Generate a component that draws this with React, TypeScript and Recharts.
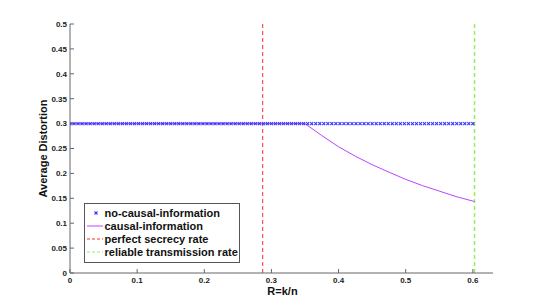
import { LineChart, Line, XAxis, YAxis, ReferenceLine, Legend, Label } from 'recharts';

// sample points of the no-causal-information curve (x markers)
const noCausalRate = [
  0, 0.006, 0.012, 0.018, 0.024, 0.03, 0.036, 0.042, 0.048, 0.054,
  0.06, 0.066, 0.072, 0.078, 0.084, 0.09, 0.096, 0.102, 0.108, 0.114,
  0.12, 0.126, 0.132, 0.138, 0.144, 0.15, 0.156, 0.162, 0.168, 0.174,
  0.18, 0.186, 0.192, 0.198, 0.204, 0.21, 0.216, 0.222, 0.228, 0.234,
  0.24, 0.246, 0.252, 0.258, 0.264, 0.27, 0.276, 0.282, 0.288, 0.294,
  0.3, 0.306, 0.312, 0.318, 0.324, 0.33, 0.336, 0.342, 0.348, 0.354,
  0.36, 0.366, 0.372, 0.378, 0.384, 0.39, 0.396, 0.402, 0.408, 0.414,
  0.42, 0.426, 0.432, 0.438, 0.444, 0.45, 0.456, 0.462, 0.468, 0.474,
  0.48, 0.486, 0.492, 0.498, 0.504, 0.51, 0.516, 0.522, 0.528, 0.534,
  0.54, 0.546, 0.552, 0.558, 0.564, 0.57, 0.576, 0.582, 0.588, 0.594,
  0.6,
];
const noCausalLevel = 0.3;

const causalRate = [0, 0.35, 0.375, 0.4, 0.425, 0.45, 0.475, 0.5, 0.525, 0.55, 0.575, 0.6025];
const causalDistortion = [0.3, 0.3, 0.276, 0.2535, 0.2345, 0.2175, 0.2025, 0.188, 0.1755, 0.1645, 0.1535, 0.1435];

const secrecyRate = 0.287;
const reliableRate = 0.6025;

const xTicks = [0, 0.1, 0.2, 0.3, 0.4, 0.5, 0.6];
const yTicks = [0, 0.05, 0.1, 0.15, 0.2, 0.25, 0.3, 0.35, 0.4, 0.45, 0.5];

const legendLabels = ['no-causal-information', 'causal-information', 'perfect secrecy rate', 'reliable transmission rate'];

const noCausalData = noCausalRate.map(r => ({ r, d: noCausalLevel }));
const causalData = causalRate.map((r, i) => ({ r, d: causalDistortion[i] }));

const FONT = '"Liberation Sans", Arial, Helvetica, sans-serif';
const AXIS = '#666';
const BLUE = '#3535ff';
const PURPLE = '#bb44ff';
const RED = '#ff2a2a';
const GREEN = '#96ee5c';

const XMarker = (props: any) => {
  const { cx, cy } = props;
  if (cx == null || cy == null) return <g />;
  return (
    <g stroke={BLUE} strokeWidth={1.1}>
      <line x1={cx - 1.5} y1={cy - 1.5} x2={cx + 1.5} y2={cy + 1.5} />
      <line x1={cx - 1.5} y1={cy + 1.5} x2={cx + 1.5} y2={cy - 1.5} />
    </g>
  );
};

const BottomTick = ({ x, y, payload }: any) => (
  <g>
    <line x1={x} x2={x} y1={y} y2={y - 4} stroke={AXIS} />
    <text x={x} y={y + 10} textAnchor="middle" fontSize={8} fontWeight="bold" fontFamily={FONT} fill="#222">
      {payload.value}
    </text>
  </g>
);

const LeftTick = ({ x, y, payload }: any) => (
  <g>
    <line x1={x} x2={x + 4} y1={y} y2={y} stroke={AXIS} />
    <text x={x - 3} y={y} dy="0.35em" textAnchor="end" fontSize={8} fontWeight="bold" fontFamily={FONT} fill="#222">
      {payload.value}
    </text>
  </g>
);

const TopTick = ({ x, y }: any) => <line x1={x} x2={x} y1={y} y2={y + 4} stroke={AXIS} />;
const RightTick = ({ x, y }: any) => <line x1={x} x2={x - 4} y1={y} y2={y} stroke={AXIS} />;

const YTitle = (props: any) => {
  const vb = props.viewBox || { x: 0, y: 24, width: 70, height: 249 };
  const cx = vb.x + 43;
  const cy = vb.y + vb.height / 2;
  return (
    <text
      x={cx}
      y={cy}
      transform={`rotate(-90 ${cx} ${cy})`}
      textAnchor="middle"
      dominantBaseline="central"
      fontSize={11}
      fontWeight="bold"
      fontFamily={FONT}
      fill="#111"
    >
      Average Distortion
    </text>
  );
};

const XTitle = (props: any) => {
  const vb = props.viewBox || { x: 70, y: 273, width: 423, height: 35 };
  return (
    <text
      x={vb.x + vb.width / 2 + 1}
      y={vb.y + 21.5}
      textAnchor="middle"
      fontSize={11}
      fontWeight="bold"
      fontFamily={FONT}
      fill="#111"
    >
      R=k/n
    </text>
  );
};

const renderLegend = () => {
  const rows = [10, 23, 36, 49];
  return (
    <svg width={156} height={60} style={{ display: 'block' }}>
      <rect x={0.5} y={0.5} width={155} height={59} fill="#fff" stroke="#555" />
      <XMarker cx={12} cy={rows[0]} />
      <line x1={3} x2={19} y1={rows[1]} y2={rows[1]} stroke={PURPLE} />
      <line x1={3} x2={19} y1={rows[2]} y2={rows[2]} stroke={RED} strokeDasharray="3 2" />
      <line x1={3} x2={19} y1={rows[3]} y2={rows[3]} stroke={GREEN} strokeDasharray="3 2" />
      {legendLabels.map((t, i) => (
        <text
          key={t}
          x={20.5}
          y={rows[i]}
          dominantBaseline="central"
          fontSize={11}
          fontWeight="bold"
          fontFamily={FONT}
          fill="#111"
        >
          {t}
        </text>
      ))}
    </svg>
  );
};

export default function App() {
  return (
    <div style={{ position: 'absolute', left: 0, top: 0, width: 545, height: 308, background: '#fff' }}>
      <LineChart width={545} height={308} margin={{ top: 24, right: 52, bottom: 0, left: 0 }}>
        <XAxis
          dataKey="r"
          type="number"
          domain={[0, 0.63]}
          ticks={xTicks}
          interval={0}
          height={35}
          tickSize={0}
          tickMargin={0}
          tickLine={false}
          tick={BottomTick}
          axisLine={{ stroke: AXIS }}
          allowDataOverflow
        >
          <Label content={XTitle} />
        </XAxis>
        <XAxis
          xAxisId="top"
          orientation="top"
          type="number"
          domain={[0, 0.63]}
          ticks={xTicks}
          interval={0}
          height={0}
          tickSize={0}
          tickMargin={0}
          tickLine={false}
          tick={TopTick}
          axisLine={{ stroke: AXIS }}
          allowDataOverflow
        />
        <YAxis
          type="number"
          domain={[0, 0.5]}
          ticks={yTicks}
          interval={0}
          width={70}
          tickSize={0}
          tickMargin={0}
          tickLine={false}
          tick={LeftTick}
          axisLine={{ stroke: AXIS }}
          allowDataOverflow
        >
          <Label content={YTitle} />
        </YAxis>
        <YAxis
          yAxisId="right"
          orientation="right"
          type="number"
          domain={[0, 0.5]}
          ticks={yTicks}
          interval={0}
          width={0}
          tickSize={0}
          tickMargin={0}
          tickLine={false}
          tick={RightTick}
          axisLine={{ stroke: AXIS }}
          allowDataOverflow
        />
        <ReferenceLine x={secrecyRate} stroke={RED} strokeDasharray="4 3" />
        <ReferenceLine x={reliableRate} stroke={GREEN} strokeWidth={1.5} strokeDasharray="4 3" />
        <Line
          data={causalData}
          dataKey="d"
          type="linear"
          stroke={PURPLE}
          strokeWidth={1}
          dot={false}
          isAnimationActive={false}
        />
        <Line
          data={noCausalData}
          dataKey="d"
          type="linear"
          stroke="none"
          dot={<XMarker />}
          activeDot={false}
          isAnimationActive={false}
        />
        <Legend
          content={renderLegend}
          layout="horizontal"
          verticalAlign="middle"
          align="center"
          wrapperStyle={{ left: 84, top: 203, width: 156, height: 60 }}
        />
      </LineChart>
    </div>
  );
}
